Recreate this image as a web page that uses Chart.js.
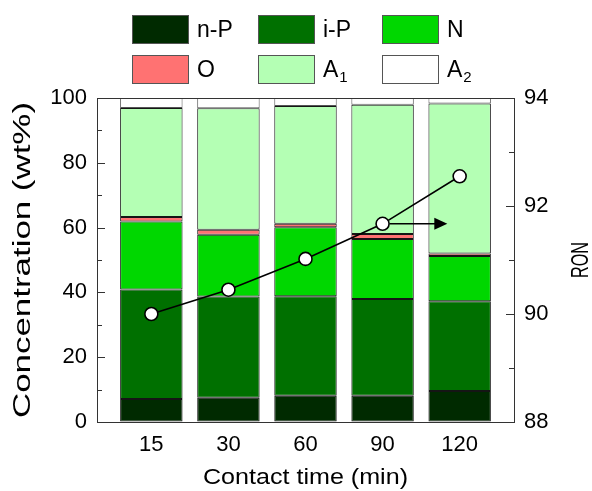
<!DOCTYPE html>
<html lang="en">
<head>
<meta charset="UTF-8">
<title>Concentration and RON vs contact time</title>
<script src="https://cdn.jsdelivr.net/npm/chart.js"></script>
<style>
  body { margin: 0; background: #fff; }
  #wrap { position: relative; width: 592px; height: 491px; font-family: "Liberation Sans", Arial, sans-serif; }
  .lg { position: absolute; display: flex; align-items: center; font-size: 23px; color: #000; line-height: 1; }
  .lg span.box { display: inline-block; width: 55px; height: 27px; border: 1px solid #555; margin-right: 8px; }
  .lg sub { font-size: 15px; position: relative; top: 7px; vertical-align: baseline; margin-left: 1px; }
</style>
</head>
<body>
<div id="wrap">
  <canvas id="chart" width="592" height="491"></canvas>
</div>
<script>
// categories (contact time, min)
const categories = ["15", "30", "60", "90", "120"];

// composition, wt% (stacked from bottom)
const nP = [7.1, 7.5, 8.1, 8.1, 9.6];
const iP = [33.8, 31.2, 30.7, 29.9, 27.7];
const N  = [21.0, 19.1, 21.3, 18.5, 13.9];
const O  = [1.4, 1.5, 1.1, 1.5, 0.8];
const A1 = [33.6, 37.5, 36.3, 39.9, 46.3];
const A2 = [3.1, 3.2, 2.5, 2.1, 1.7];

// research octane number
const ron = [90.0, 90.45, 91.02, 91.67, 92.55];

const seriesNames = ["n-P", "i-P", "N", "O", "A<sub>1</sub>", "A<sub>2</sub>"];
const seriesColors = ["#002a00", "#007000", "#00d700", "#ff7272", "#b4ffb4", "#ffffff"];
const seriesData = [nP, iP, N, O, A1, A2];

const font = "'Liberation Sans', Arial, sans-serif";

const toXY = arr => arr.map((v, i) => ({ x: i, y: v }));

const barSets = seriesData.map((d, k) => ({
  type: "bar",
  label: seriesNames[k],
  data: toXY(d),
  backgroundColor: seriesColors[k],
  borderColor: k === 5 ? "#555" : "#151515",
  borderWidth: 1,
  borderSkipped: false,
  barPercentage: 0.81,
  categoryPercentage: 1,
  yAxisID: "y",
  order: 1
}));

const ronSet = {
  type: "line",
  label: "RON",
  data: toXY(ron),
  yAxisID: "y1",
  borderColor: "#000",
  borderWidth: 1.6,
  pointRadius: 6.5,
  pointBackgroundColor: "#fff",
  pointBorderColor: "#000",
  pointBorderWidth: 1.6,
  order: 0
};

// legend (3 x 2 grid)
const wrap = document.getElementById("wrap");
const legCols = [132, 258, 382];
const legRows = [15, 55];
seriesNames.forEach((name, k) => {
  const el = document.createElement("div");
  el.className = "lg";
  el.style.left = legCols[k % 3] + "px";
  el.style.top = legRows[Math.floor(k / 3)] + "px";
  el.innerHTML = '<span class="box" style="background:' + seriesColors[k] + '"></span>' + name;
  wrap.appendChild(el);
});

// inward major/minor ticks + frame
const frame = {
  id: "frame",
  afterDraw(chart) {
    const ctx = chart.ctx;
    const a = chart.chartArea;
    const y = chart.scales.y, y1 = chart.scales.y1;
    ctx.save();
    ctx.strokeStyle = "#333";
    ctx.lineWidth = 1;
    ctx.beginPath();
    for (let v = 0; v <= 100; v += 10) {
      const p = Math.round(y.getPixelForValue(v)) + 0.5;
      const len = v % 20 === 0 ? 8 : 5;
      ctx.moveTo(a.left, p); ctx.lineTo(a.left + len, p);
    }
    for (let v = 88; v <= 94; v += 1) {
      const p = Math.round(y1.getPixelForValue(v)) + 0.5;
      const len = v % 2 === 0 ? 8 : 5;
      ctx.moveTo(a.right, p); ctx.lineTo(a.right - len, p);
    }
    ctx.stroke();
    ctx.strokeRect(Math.round(a.left) + 0.5, Math.round(a.top) + 0.5,
      Math.round(a.right - a.left), Math.round(a.bottom - a.top));
    ctx.restore();
  }
};

// axis titles, stretched along the text direction like the original figure
const titles = {
  id: "titles",
  afterDraw(chart) {
    const ctx = chart.ctx;
    const a = chart.chartArea;
    const midY = (a.top + a.bottom) / 2;
    const midX = (a.left + a.right) / 2;
    const put = (text, size, len, x, y, rot) => {
      ctx.save();
      ctx.font = size + "px " + font;
      ctx.fillStyle = "#000";
      ctx.textAlign = "center";
      ctx.textBaseline = "middle";
      ctx.translate(x, y);
      ctx.rotate(rot);
      ctx.scale(len / ctx.measureText(text).width, 1);
      ctx.fillText(text, 0, 0);
      ctx.restore();
    };
    put("Contact time (min)", 22, 205, midX, 478, 0);
    put("Concentration (wt%)", 23, 316, 24, midY, -Math.PI / 2);
    put("RON", 24, 36, 581, midY, -Math.PI / 2);
  }
};

// arrow pointing from the RON curve to the right axis
const arrowFrom = 3, arrowTo = 3.84;
const arrow = {
  id: "arrow",
  afterDatasetsDraw(chart) {
    const ctx = chart.ctx;
    const x = chart.scales.x, y1 = chart.scales.y1;
    const py = y1.getPixelForValue(ron[arrowFrom]);
    const x0 = x.getPixelForValue(arrowFrom) + 7;
    const x1 = x.getPixelForValue(arrowTo);
    ctx.save();
    ctx.strokeStyle = "#000";
    ctx.fillStyle = "#000";
    ctx.lineWidth = 1.6;
    ctx.beginPath();
    ctx.moveTo(x0, py); ctx.lineTo(x1 - 12, py);
    ctx.stroke();
    ctx.beginPath();
    ctx.moveTo(x1, py); ctx.lineTo(x1 - 13, py - 6); ctx.lineTo(x1 - 13, py + 6);
    ctx.closePath();
    ctx.fill();
    ctx.restore();
  }
};

new Chart(document.getElementById("chart").getContext("2d"), {
  data: { datasets: [ronSet, ...barSets] },
  options: {
    responsive: false,
    animation: false,
    layout: { padding: { top: 98, left: 0, right: 0, bottom: 0 } },
    plugins: { legend: { display: false }, tooltip: { enabled: false } },
    scales: {
      x: {
        type: "linear",
        stacked: true,
        offset: false,
        min: -0.705,
        max: 4.705,
        afterBuildTicks: s => { s.ticks = categories.map((c, i) => ({ value: i })); },
        afterFit: s => { s.height = 69; },
        grid: { display: false, drawTicks: false },
        border: { display: true, color: "#333", width: 1 },
        ticks: {
          callback: v => categories[v],
          padding: 10,
          color: "#000",
          font: { family: font, size: 22 }
        }
      },
      y: {
        position: "left",
        stacked: true,
        min: 0,
        max: 100,
        afterFit: s => { s.width = 97; },
        grid: { drawOnChartArea: false, drawTicks: false },
        border: { display: true, color: "#333", width: 1 },
        ticks: {
          stepSize: 20,
          padding: 10,
          color: "#000",
          font: { family: font, size: 22 }
        }
      },
      y1: {
        position: "right",
        min: 88,
        max: 94,
        afterFit: s => { s.width = 78; },
        grid: { drawOnChartArea: false, drawTicks: false },
        border: { display: true, color: "#333", width: 1 },
        ticks: {
          stepSize: 2,
          padding: 10,
          color: "#000",
          font: { family: font, size: 22 }
        }
      }
    }
  },
  plugins: [frame, titles, arrow]
});
</script>
</body>
</html>
